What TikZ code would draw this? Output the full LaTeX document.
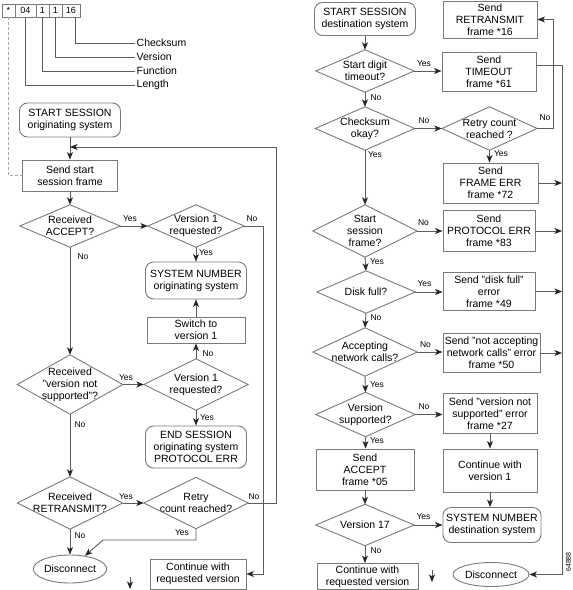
\documentclass[tikz,border=0pt]{standalone}
\usepackage{fontspec}
\setmainfont{Liberation Sans}
\usetikzlibrary{arrows.meta,shapes.geometric,calc}
\definecolor{linec}{gray}{0.36}
\definecolor{boxc}{gray}{0.48}
\newcommand{\Dia}[5]{%
  \node[base, minimum width=#3, minimum height=#4] (#1) at (#2) {#5};
  \draw[diab] (#1.north) -- (#1.east) -- (#1.south) -- (#1.west) -- cycle;}
\tikzset{
  base/.style={inner sep=0pt, align=center, font=\fontsize{10.5}{12}\selectfont, text=black},
  box/.style={base, draw=boxc, line width=0.9pt, rectangle},
  rbox/.style={box, rounded corners=8pt},
  ell/.style={base, draw=boxc, line width=0.9pt, ellipse},
  diab/.style={draw=boxc, line width=0.9pt},
  cell/.style={draw=boxc, line width=0.7pt, inner sep=0pt, minimum height=13pt, font=\fontsize{9}{10}\selectfont},
  lab/.style={font=\fontsize{8.5}{9}\selectfont, inner sep=0pt},
  flab/.style={font=\fontsize{10.5}{12}\selectfont, inner sep=1.5pt, anchor=west},
  line/.style={draw=linec, line width=0.9pt},
  arr/.style={line, -{Stealth[length=7.5pt,width=6pt,inset=2pt,color=black!85]}},
}
\begin{document}
\begin{tikzpicture}[x=1pt,y=-1pt]
\useasboundingbox (0,0) rectangle (573,590);
% ---------- header ----------
\node[cell, minimum width=13pt] (c0) at (8.5,10.5) {*};
\node[cell, minimum width=21pt] (c1) at (25.5,10.5) {04};
\node[cell, minimum width=13pt] (c2) at (42.5,10.5) {1};
\node[cell, minimum width=13pt] (c3) at (55.5,10.5) {1};
\node[cell, minimum width=18pt] (c4) at (71,10.5) {16};
\node[flab] (lChk) at (135,43) {Checksum};
\node[flab] (lVer) at (135,57) {Version};
\node[flab] (lFun) at (135,71) {Function};
\node[flab] (lLen) at (135,85) {Length};
\draw[line, line width=0.7pt] ([xshift=4pt]c4.south) |- (lChk.west);
\draw[line, line width=0.7pt] (c3.south) |- (lVer.west);
\draw[line, line width=0.7pt] (c2.south) |- (lFun.west);
\draw[line, line width=0.7pt] (c1.south) |- (lLen.west);
% ---------- left column ----------
\node[rbox, minimum width=101pt, minimum height=34pt] (ss1) at (70,120) {START SESSION\\originating system};
\node[box, minimum width=95pt, minimum height=31pt] (send1) at (70,175.5) {Send start\\session frame};
\draw[line, draw=gray!70, dash pattern=on 3pt off 2pt] (c0.south) |- (send1.west);
\Dia{acc}{70,226}{100pt}{42pt}{Received\\ACCEPT?}
\Dia{v1a}{196,226}{96pt}{42pt}{Version 1\\requested?}
\node[rbox, minimum width=101pt, minimum height=37pt] (sys1) at (196,280.5) {SYSTEM NUMBER\\originating system};
\node[box, minimum width=98pt, minimum height=26pt] (sw) at (196,330) {Switch to\\version 1};
\Dia{vns}{70,384.5}{105pt}{59pt}{Received\\"version not\\supported"?}
\Dia{v1b}{196,384.5}{104pt}{51pt}{Version 1\\requested?}
\node[rbox, minimum width=101pt, minimum height=42pt] (end1) at (196,447) {END SESSION\\originating system\\PROTOCOL ERR};
\Dia{retx}{70,503}{105pt}{52pt}{Received\\RETRANSMIT?}
\Dia{retry}{196,503}{104pt}{51pt}{Retry\\count reached?}
\node[ell, minimum width=69pt, minimum height=28pt] (disc1) at (70,569) {Disconnect};
\node[box, minimum width=96pt, minimum height=30pt] (cont1) at (198,574) {Continue with\\requested version};
\coordinate (lp) at (70,147);
\coordinate (loopR) at (276,147);
\coordinate (r1) at (263,574);
\coordinate (ry1) at (196,540);
\coordinate (ry2) at (103,540);
\coordinate (fa1) at (130,577);
\coordinate (fa1e) at (130,589);
\draw[arr] (ss1) -- (send1);
\draw[arr] (send1) -- (acc.north);
\draw[arr] (acc.east) -- (v1a.west);
\draw[arr] (v1a.south) -- (sys1.north);
\draw[arr] (v1a.east) -| (r1) -- (cont1.east);
\draw[arr] (acc.south) -- (vns.north);
\draw[arr] (vns.east) -- (v1b.west);
\draw[arr] (v1b.north) -- (sw.south);
\draw[arr] (sw.north) -- (sys1.south);
\draw[arr] (v1b.south) -- (end1.north);
\draw[arr] (vns.south) -- (retx.north);
\draw[arr] (retx.east) -- (retry.west);
\draw[arr] (retry.east) -| (loopR) -- (lp);
\draw[arr] (retry.south) -- (ry1) -- (ry2) -- (disc1);
\draw[arr] (retx.south) -- (disc1.north);
\draw[arr] (fa1) -- (fa1e);
\node[lab] (y1) at (130,219) {Yes};
\node[lab] (n1) at (252,219) {No};
\node[lab] (y2) at (206,253) {Yes};
\node[lab] (n2) at (83,257) {No};
\node[lab] (n3) at (208,354) {No};
\node[lab] (y3) at (126,378) {Yes};
\node[lab] (n4) at (80,425) {No};
\node[lab] (y4) at (207,418) {Yes};
\node[lab] (y5) at (126,497) {Yes};
\node[lab] (n5) at (254,497) {No};
\node[lab] (y6) at (182,533) {Yes};
\node[lab] (n6) at (80,536) {No};
% ---------- right column ----------
\node[rbox, minimum width=101pt, minimum height=33pt] (ss2) at (365,19) {START SESSION\\destination system};
\node[box, minimum width=94pt, minimum height=37pt] (retrans) at (490,19.5) {Send\\RETRANSMIT\\frame *16};
\Dia{sdt}{365,71}{98pt}{42pt}{Start digit\\timeout?}
\node[box, minimum width=94pt, minimum height=39pt] (timeout) at (489,71.5) {Send\\TIMEOUT\\frame *61};
\Dia{cko}{365,128.5}{99pt}{43pt}{Checksum\\okay?}
\Dia{rcr}{489.5,128.5}{95pt}{43pt}{Retry count\\reached ?}
\node[box, minimum width=95pt, minimum height=40pt] (frame) at (490.5,183) {Send\\FRAME ERR\\frame *72};
\Dia{ssf}{365,231}{104pt}{52pt}{Start\\session\\frame?}
\node[box, minimum width=92pt, minimum height=41pt] (proto) at (489,231) {Send\\PROTOCOL ERR\\frame *83};
\Dia{disk}{366,292}{98pt}{42pt}{Disk full?}
\node[box, minimum width=92pt, minimum height=38pt] (diskb) at (489,291.5) {Send "disk full"\\error\\frame *49};
\Dia{acn}{365,352}{104pt}{48pt}{Accepting\\network calls?}
\node[box, minimum width=97pt, minimum height=39pt] (nab) at (491.5,353) {Send "not accepting\\network calls" error\\frame *50};
\Dia{vs}{365.5,414.5}{99pt}{44pt}{Version\\supported?}
\node[box, minimum width=94pt, minimum height=40pt] (vnsb) at (490,413.5) {Send "version not\\supported" error\\frame *27};
\node[box, minimum width=98pt, minimum height=41pt] (acc2) at (365,469.5) {Send\\ACCEPT\\frame *05};
\node[box, minimum width=94pt, minimum height=43pt] (cv1) at (490,470.5) {Continue with\\version 1};
\Dia{v17}{365,525}{98pt}{41pt}{Version 17}
\node[rbox, minimum width=98pt, minimum height=35pt] (sys2) at (492,525) {SYSTEM NUMBER\\destination system};
\node[box, minimum width=101pt, minimum height=26pt] (cont2) at (367.5,576.5) {Continue with\\requested version};
\node[ell, minimum width=76pt, minimum height=24pt] (disc2) at (491,574.5) {Disconnect};
\node[font=\fontsize{7}{8}\selectfont, inner sep=0pt, rotate=90] (fig) at (568.5,562) {64888};
\coordinate (rl) at (553,19.5);
\coordinate (busB) at (562,574.5);
\coordinate (fa2) at (432,570);
\coordinate (fa2e) at (432,582);
\draw[arr] (ss2) -- (sdt.north);
\draw[arr] (sdt.east) -- (sdt.east -| timeout.west);
\draw[arr] (sdt.south) -- (cko.north);
\draw[arr] (cko.east) -- (rcr.west);
\draw[arr] (rcr.south) -- (rcr.south |- frame.north);
\draw[arr] (rcr.east) -| (rl) -- (retrans.east);
\draw[arr] (cko.south) -- (ssf.north);
\draw[arr] (ssf.east) -- (proto.west);
\draw[arr] (ssf.south) -- (disk.north);
\draw[arr] (disk.east) -- (disk.east -| diskb.west);
\draw[arr] (disk.south) -- (acn.north);
\draw[arr] (acn.east) -- (acn.east -| nab.west);
\draw[arr] (acn.south) -- (vs.north);
\draw[arr] (vs.east) -- (vs.east -| vnsb.west);
\draw[arr] (vnsb.south) -- (cv1.north);
\draw[arr] (cv1.south) -- (cv1.south |- sys2.north);
\draw[arr] (vs.south) -- (vs.south |- acc2.north);
\draw[arr] (acc2.south) -- (v17.north);
\draw[arr] (v17.east) -- (sys2.west);
\draw[arr] (v17.south) -- (v17.south |- cont2.north);
\draw[arr] ([yshift=6pt]timeout.east) -| (busB) -- (disc2.east);
\draw[arr] (frame.east) -- (frame.east -| busB);
\draw[arr] (proto.east) -- (proto.east -| busB);
\draw[arr] (diskb.east) -- (diskb.east -| busB);
\draw[arr] (nab.east) -- (nab.east -| busB);
\draw[arr] (fa2) -- (fa2e);
\node[lab] (ry) at (424,64) {Yes};
\node[lab] (rn1) at (376,98) {No};
\node[lab] (rn2) at (424,121) {No};
\node[lab] (rn3) at (545,118) {No};
\node[lab] (ry2) at (501,154) {Yes};
\node[lab] (ry3) at (375,155) {Yes};
\node[lab] (rn4) at (423.5,223) {No};
\node[lab] (ry4) at (377,262) {Yes};
\node[lab] (ry5) at (424.5,284) {Yes};
\node[lab] (rn5) at (376,318) {No};
\node[lab] (rn6) at (425.5,345) {No};
\node[lab] (ry6) at (377,385) {Yes};
\node[lab] (rn7) at (424,407) {No};
\node[lab] (ry7) at (377,441) {Yes};
\node[lab] (ry8) at (423.5,517) {Yes};
\node[lab] (rn8) at (376,551) {No};
\end{tikzpicture}
\end{document}
